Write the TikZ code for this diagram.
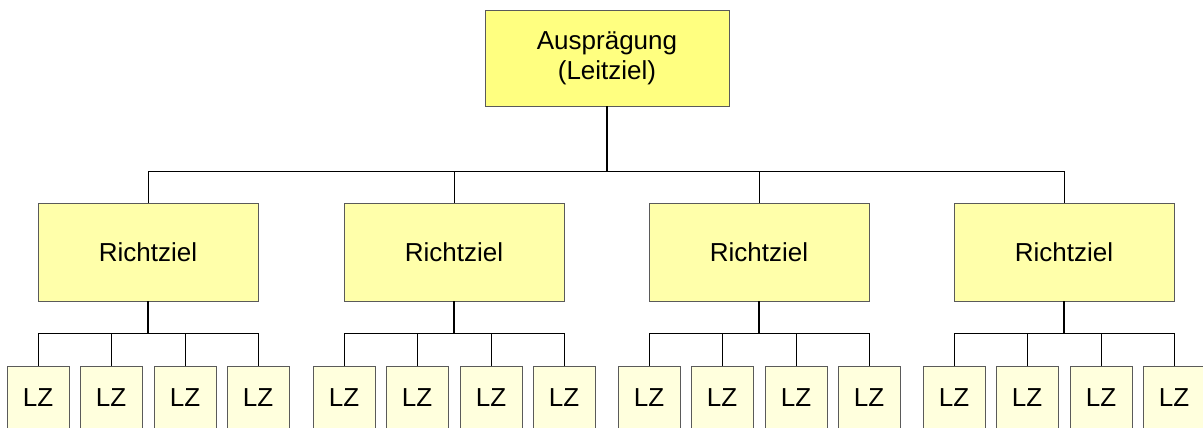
\documentclass[tikz,border=0pt]{standalone}
\usepackage{fontspec}
\setmainfont{Liberation Sans}
\definecolor{topfill}{RGB}{255,255,128}
\definecolor{midfill}{RGB}{255,255,170}
\definecolor{lowfill}{RGB}{255,255,221}
\definecolor{edge}{RGB}{90,90,90}
\tikzset{
  box/.style={draw=edge, line width=0.9pt, inner sep=0pt, align=center, font=\fontsize{26}{30}\selectfont},
  topbox/.style={box, fill=topfill, minimum width=244pt, minimum height=96pt},
  midbox/.style={box, fill=midfill, minimum width=220pt, minimum height=98pt},
  lowbox/.style={box, fill=lowfill, minimum width=62pt, minimum height=64pt},
  conn/.style={draw=black, line width=1pt},
  trunk/.style={draw=black, line width=1.4pt}
}
\begin{document}
\begin{tikzpicture}[x=1pt,y=1pt]
\useasboundingbox (0,0) rectangle (1203,-428);
\clip (0,0) rectangle (1203,-428);
\fill[white] (0,0) rectangle (1203,-428);
\node[topbox] (top) at (607,-58) {Ausprägung\\(Leitziel)};
\foreach \i/\cx in {1/148,2/454,3/759,4/1064}{
  \node[midbox] (r\i) at (\cx,-252) {Richtziel};
  \foreach \j/\dx in {1/-110,2/-37,3/37,4/110}{
    \node[lowbox] (l\i\j) at (\cx+\dx,-398) {LZ};
  }
}
\draw[trunk] (top.south) -- ++(0,-65) coordinate (bus);
\foreach \i in {1,2,3,4}{
  \draw[conn] (bus) -| (r\i.north);
  \draw[trunk] (r\i.south) -- ++(0,-32) coordinate (sb\i);
  \foreach \j in {1,2,3,4}{
    \draw[conn] (sb\i) -| (l\i\j.north);
  }
}
\end{tikzpicture}
\end{document}
